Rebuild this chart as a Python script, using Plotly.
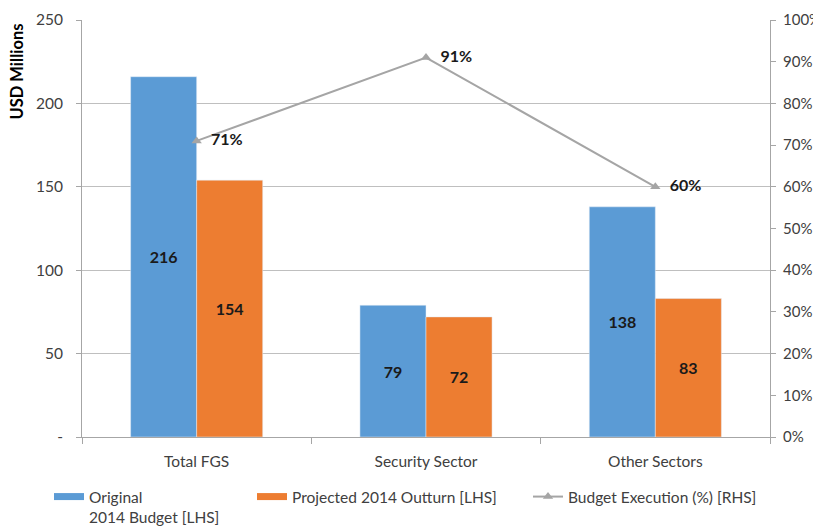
import plotly.graph_objects as go

categories = ["Total FGS", "Security Sector", "Other Sectors"]
original_budget = [216, 79, 138]
projected_outturn = [154, 72, 83]
budget_execution = [0.71, 0.91, 0.60]
left_tickvals = [0, 50, 100, 150, 200, 250]
left_ticktext = ["-", "50", "100", "150", "200", "250"]
series_names = ["Original<br>2014 Budget [LHS]", "Projected 2014 Outturn [LHS]",
                "Budget Execution (%) [RHS]"]

FONT = "Lato, 'Open Sans', sans-serif"
BLUE = "#5B9BD5"
ORANGE = "#ED7D31"
GRAY = "#A5A5A5"
TXT = "#404040"
AX = "#A6A6A6"
LBL = dict(family=FONT, size=16, color="#1a1a1a", weight="bold")

# the page adds an 8px body margin, so the figure is 8px smaller
W, H = 813, 519
L, T, R, B = 74, 12, 51, 90
PW, PH = W - L - R, H - T - B

fig = go.Figure()
fig.add_trace(go.Bar(
    x=categories, y=original_budget, name=series_names[0], showlegend=False,
    marker_color=BLUE, text=[str(v) for v in original_budget],
    textposition="inside", insidetextanchor="middle", textfont=LBL,
))
fig.add_trace(go.Bar(
    x=categories, y=projected_outturn, name=series_names[1], showlegend=False,
    marker_color=ORANGE, text=[str(v) for v in projected_outturn],
    textposition="inside", insidetextanchor="middle", textfont=LBL,
))
fig.add_trace(go.Scatter(
    x=categories, y=budget_execution, name=series_names[2], showlegend=False,
    yaxis="y2", mode="lines+markers+text",
    line=dict(color=GRAY, width=2),
    marker=dict(symbol="triangle-up", size=9, color=GRAY),
    text=["\u00a0\u00a0" + f"{round(v*100)}%" for v in budget_execution],
    textposition="middle right", textfont=LBL,
))
# legend entries (wide swatches like the original)
fig.add_trace(go.Scatter(x=[None], y=[None], mode="lines", name=series_names[0],
                         line=dict(color=BLUE, width=7), legend="legend"))
fig.add_trace(go.Scatter(x=[None], y=[None], mode="lines", name=series_names[1],
                         line=dict(color=ORANGE, width=7), legend="legend2"))
fig.add_trace(go.Scatter(x=[None], y=[None], mode="lines+markers", name=series_names[2],
                         line=dict(color=GRAY, width=2),
                         marker=dict(symbol="triangle-up", size=9, color=GRAY),
                         legend="legend3"))

fig.add_annotation(text="<b>USD Millions</b>", xref="paper", yref="paper",
                   x=(8.5 - L) / PW, y=(PH + T - 64) / PH,
                   xanchor="center", yanchor="middle", textangle=-90,
                   showarrow=False, font=dict(family=FONT, size=16.5, color="black"))


def leg(xpx):
    return dict(orientation="h", xref="container", yref="container",
                x=xpx / W, y=1 - 472 / H, xanchor="left", yanchor="top",
                font=dict(family=FONT, size=15.5, color=TXT),
                itemwidth=30, valign="top", bgcolor="rgba(0,0,0,0)")


fig.update_layout(
    width=W, height=H,
    margin=dict(l=L, r=R, t=T, b=B),
    plot_bgcolor="white", paper_bgcolor="white",
    font=dict(family=FONT, size=15.5, color=TXT),
    barmode="group", bargap=0.424, bargroupgap=0,
    showlegend=True,
    legend=leg(41), legend2=leg(244), legend3=leg(520),
    xaxis=dict(showline=True, linecolor=AX, linewidth=1,
               ticks="outside", tickson="boundaries", ticklen=6,
               tickcolor=AX, showgrid=False, automargin=False,
               ticklabelstandoff=10),
    yaxis=dict(range=[0, 250], tickvals=left_tickvals, ticktext=left_ticktext,
               showline=True, linecolor=AX, linewidth=1,
               ticks="outside", ticklen=5, tickcolor=AX,
               showgrid=True, gridcolor="#BFBFBF", gridwidth=1,
               zeroline=False, automargin=False, ticklabelstandoff=10),
    yaxis2=dict(range=[0, 1], dtick=0.1, tickformat=".0%", overlaying="y",
                side="right", showline=True, linecolor=AX, linewidth=1,
                ticks="outside", ticklen=5, tickcolor=AX,
                showgrid=False, zeroline=False, automargin=False,
                ticklabelstandoff=4, tickfont=dict(size=15)),
)

fig.write_html("out.html")
